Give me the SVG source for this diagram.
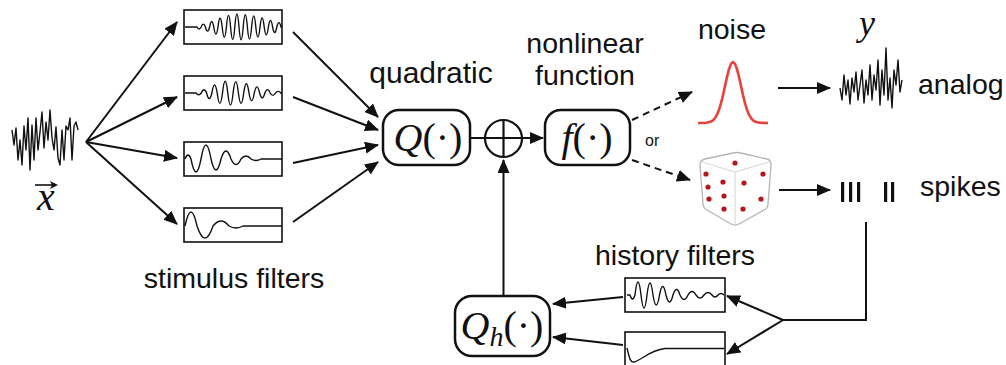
<svg xmlns="http://www.w3.org/2000/svg" width="1006" height="365" viewBox="0 0 1006 365">
  <style>
    .lbl { font-family: "Liberation Sans", Arial, sans-serif; font-size: 28.5px; fill: #111; }
    .math { font-family: "Liberation Serif", "Times New Roman", serif; font-size: 40px; fill: #111; }
    .it { font-style: italic; }
    .filt { fill: #fff; stroke: #111; stroke-width: 1.6; }
    .wave { fill: none; stroke: #111; stroke-width: 1.4; stroke-linejoin: round; }
    .rbox { fill: #fff; stroke: #111; stroke-width: 2.5; }
    .conn { fill: none; stroke: #111; stroke-width: 2; }
    .dash { stroke-dasharray: 7 5; }
    .dot { fill: #b3161b; }
  </style>
  <defs>
    <marker id="ah" viewBox="0 0 14 12" refX="13" refY="6" markerWidth="14" markerHeight="12" markerUnits="userSpaceOnUse" orient="auto">
      <path d="M0,0 L14,6 L0,12 Z" fill="#111"/>
    </marker>
  </defs>

  <!-- input stimulus -->
  <g id="stimulus">
    <polyline class="wave" points="12,130 14,145 16,128 18,160 20,140 22,165 24,126 26,150 28,118 30,170 32,125 34,160 36,118 38,150 40,132 42,112 44,148 46,122 48,140 50,110 52,138 54,150 56,127 58,158 60,165 62,130 64,160 66,126 68,130 70,118 72,160 74,126 76,122 78,130"/>
    <text class="math it" x="46" y="210" text-anchor="middle">x</text>
    <line x1="35" y1="185" x2="52" y2="185" stroke="#111" stroke-width="1.6"/>
    <path d="M58,185 L50,181 L52,185 L50,189 Z" fill="#111"/>
  </g>

  <!-- stimulus filter bank -->
  <g id="filter1">
    <rect class="filt" x="184" y="10" width="98" height="34"/>
    <path class="wave" d="M185,27 H197 Q199.1,31 201.2,27 Q203.3,21.2 205.4,27 Q207.5,35.2 209.6,27 Q211.7,16 213.8,27 Q215.9,41.2 218,27 Q220.1,9.6 222.2,27 Q224.3,47.6 226.4,27 Q228.5,3.8 230.6,27 Q232.7,52.2 234.8,27 Q236.9,1 239,27 Q241.1,52.8 243.2,27 Q245.3,2.6 247.4,27 Q249.5,51 251.6,27 Q253.7,4.8 255.8,27 Q257.9,47.2 260,27 Q262.1,9 264.2,27 Q266.3,42.6 268.4,27 Q270.5,13.8 272.6,27 Q274.7,38 276.8,27 Q278.9,18.2 281,27 L282,27"/>
  </g>
  <g id="filter2">
    <rect class="filt" x="184" y="76" width="98" height="34"/>
    <path class="wave" d="M185,93 H196 Q198.65,96.6 201.3,93 Q203.95,86.4 206.6,93 Q209.25,104 211.9,93 Q214.55,77 217.2,93 Q219.85,113.8 222.5,93 Q225.15,69.4 227.8,93 Q230.45,117 233.1,93 Q235.75,70.2 238.4,93 Q241.05,114 243.7,93 Q246.35,74.6 249,93 Q251.65,108.4 254.3,93 Q256.95,80.8 259.6,93 Q262.25,102.4 264.9,93 Q267.55,86.2 270.2,93 Q272.85,97.8 275.5,93 Q278.15,89.8 280.8,93 L282,93"/>
  </g>
  <g id="filter3">
    <rect class="filt" x="184" y="142" width="98" height="34"/>
    <path class="wave" d="M185,159 Q188,151 191,159 Q196,185 201,159 Q206,131 211,159 Q216,181 221,159 Q226,143 231,159 Q236,170 241,159 Q246,153 251,159 Q256,162 261,159 L282,159"/>
  </g>
  <g id="filter4">
    <rect class="filt" x="184" y="208" width="98" height="34"/>
    <path class="wave" d="M185,226 Q191,198 197,226 Q205,250 213,226 Q221,216 229,226 Q236,230 243,226 L282,226"/>
  </g>
  <text class="lbl" x="234" y="288" text-anchor="middle">stimulus filters</text>

  <!-- quadratic stage -->
  <g id="quadratic">
    <text class="lbl" x="431" y="83" text-anchor="middle" style="font-size:30px">quadratic</text>
    <rect class="rbox" x="383" y="110" width="87" height="55" rx="16"/>
    <text class="math" x="428" y="151" text-anchor="middle"><tspan class="it">Q</tspan>(·)</text>
  </g>

  <!-- summation -->
  <g id="sum">
    <circle cx="503.5" cy="138.5" r="18.5" fill="#fff" stroke="#111" stroke-width="2.2"/>
    <line x1="503.5" y1="120" x2="503.5" y2="157" stroke="#111" stroke-width="2.2"/>
  </g>

  <!-- nonlinearity -->
  <g id="nonlinearity">
    <text class="lbl" x="585" y="53" text-anchor="middle">nonlinear</text>
    <text class="lbl" x="585" y="85" text-anchor="middle">function</text>
    <rect class="rbox" x="545" y="110" width="85" height="55" rx="16"/>
    <text class="math" x="587" y="151" text-anchor="middle"><tspan class="it">f</tspan>(·)</text>
  </g>
  <text class="lbl" x="645" y="146" style="font-size:16px">or</text>

  <!-- noise model -->
  <g id="noise">
    <text class="lbl" x="732" y="39" text-anchor="middle">noise</text>
    <polyline fill="none" stroke="#e8423b" stroke-width="2.6" stroke-linejoin="round" points="698,123 706,122.8 710,122 713,120.3 715,118.1 717,114.7 719,109.8 721,103.2 723,95.1 725,86 727,76.9 729,69.2 731,63.9 733,62 735,63.9 737,69.2 739,76.9 741,86 743,95.1 745,103.2 747,109.8 749,114.7 751,118.1 753,120.3 756,122 760,122.8 768,123"/>
  </g>

  <!-- analog output -->
  <g id="analog">
    <text class="math it" x="867" y="35" text-anchor="middle" style="font-size:36px">y</text>
    <polyline class="wave" points="840,88 842,100 844,75 846,95 848,80 850,104 852,78 854,92 856,72 858,100 860,85 862,70 864,103 866,80 868,95 870,65 872,100 874,75 876,90 878,60 880,105 882,70 884,95 886,48 888,100 890,78 892,108 894,70 896,85 898,60 900,92 902,80"/>
    <text class="lbl" x="918" y="94">analog</text>
  </g>

  <!-- spiking output (dice) -->
  <g id="dice">
    <path d="M700,165 Q700,160 705,159 L733,153 Q737,152 741,153 L767,159 Q771,160 771,165 L768,204 Q768,208 764,210 L739,224 Q735,226 731,224 L707,210 Q703,208 703,204 Z" fill="#fff" stroke="#b5b5b5" stroke-width="1.3"/>
    <path d="M702,162 L735,172 L769,162 M735,172 L735,225" fill="none" stroke="#dcdcdc" stroke-width="1.2"/>
    <circle class="dot" cx="735" cy="163" r="2.6"/>
    <circle class="dot" cx="706" cy="174" r="2.6"/>
    <circle class="dot" cx="723" cy="182" r="2.6"/>
    <circle class="dot" cx="708" cy="187" r="2.6"/>
    <circle class="dot" cx="724" cy="196" r="2.6"/>
    <circle class="dot" cx="709" cy="199" r="2.6"/>
    <circle class="dot" cx="724" cy="209" r="2.6"/>
    <circle class="dot" cx="763" cy="174" r="2.6"/>
    <circle class="dot" cx="744" cy="183" r="2.6"/>
    <circle class="dot" cx="761" cy="199" r="2.6"/>
    <circle class="dot" cx="743" cy="209" r="2.6"/>
  </g>
  <g id="spikes">
    <rect x="841" y="182" width="3.2" height="20" fill="#111"/>
    <rect x="849" y="182" width="3.2" height="20" fill="#111"/>
    <rect x="857" y="182" width="3.2" height="20" fill="#111"/>
    <rect x="884" y="182" width="3.2" height="20" fill="#111"/>
    <rect x="891" y="182" width="3.2" height="20" fill="#111"/>
    <text class="lbl" x="920" y="196">spikes</text>
  </g>

  <!-- spike-history stage -->
  <g id="history1">
    <rect class="filt" x="625" y="278" width="100" height="34"/>
    <path class="wave" d="M627,295 H630 Q632.5,303 635,295 Q638,269 641,295 Q644,321 647,295 Q650,271 653,295 Q656.25,315 659.5,295 Q662.75,278 666,295 Q669.5,309 673,295 Q676.5,284 680,295 Q684,304 688,295 Q692,288 696,295 Q700,301 704,295 Q708,290 712,295 Q715,299 718,295 Q721,292 724,295"/>
  </g>
  <g id="history2">
    <rect class="filt" x="625" y="332" width="100" height="40"/>
    <path class="wave" d="M627,348 C629,356 630,363 634,362 C640,361 650,350 665,348.5 L724,348.5"/>
  </g>
  <text class="lbl" x="675" y="265" text-anchor="middle">history filters</text>
  <g id="history-quadratic">
    <rect class="rbox" x="455" y="296" width="95" height="60" rx="17"/>
    <text class="math" x="502" y="339" text-anchor="middle"><tspan class="it">Q</tspan><tspan class="it" style="font-size:28px" dy="7">h</tspan><tspan dy="-7">(·)</tspan></text>
  </g>

  <!-- connectors -->
  <g id="connectors">
    <line class="conn" x1="86" y1="142" x2="177" y2="22" marker-end="url(#ah)"/>
    <line class="conn" x1="86" y1="142" x2="177" y2="97" marker-end="url(#ah)"/>
    <line class="conn" x1="86" y1="142" x2="177" y2="158" marker-end="url(#ah)"/>
    <line class="conn" x1="86" y1="142" x2="177" y2="224" marker-end="url(#ah)"/>

    <line class="conn" x1="293" y1="32" x2="378" y2="117" marker-end="url(#ah)"/>
    <line class="conn" x1="293" y1="97" x2="378" y2="130" marker-end="url(#ah)"/>
    <line class="conn" x1="293" y1="163" x2="378" y2="145" marker-end="url(#ah)"/>
    <line class="conn" x1="293" y1="222" x2="378" y2="162" marker-end="url(#ah)"/>

    <line class="conn" x1="470" y1="138" x2="543" y2="138" marker-end="url(#ah)"/>
    <line class="conn" x1="503.5" y1="296" x2="503.5" y2="160" marker-end="url(#ah)"/>

    <line class="conn dash" x1="632" y1="120" x2="692" y2="92" marker-end="url(#ah)"/>
    <line class="conn dash" x1="632" y1="160" x2="690" y2="180" marker-end="url(#ah)"/>

    <line class="conn" x1="778" y1="88" x2="830" y2="88" marker-end="url(#ah)"/>
    <line class="conn" x1="779" y1="190" x2="830" y2="190" marker-end="url(#ah)"/>

    <polyline class="conn" points="866,222 866,320 783,320"/>
    <line class="conn" x1="783" y1="320" x2="727" y2="296" marker-end="url(#ah)"/>
    <line class="conn" x1="783" y1="320" x2="727" y2="354" marker-end="url(#ah)"/>

    <line class="conn" x1="623" y1="297" x2="553" y2="304" marker-end="url(#ah)"/>
    <line class="conn" x1="623" y1="345" x2="553" y2="337" marker-end="url(#ah)"/>
  </g>
</svg>
